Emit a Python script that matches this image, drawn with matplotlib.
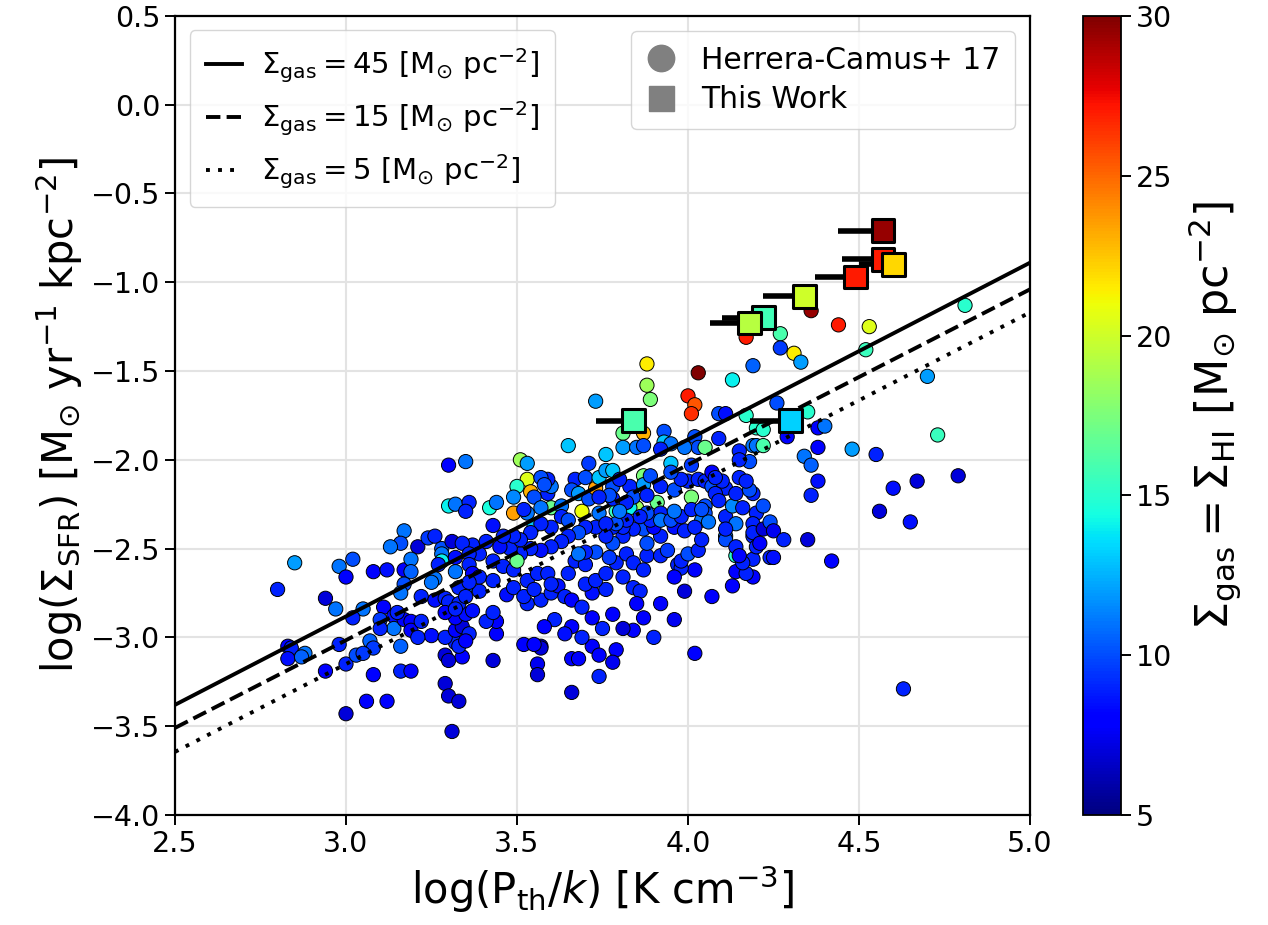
import numpy as np
import matplotlib
matplotlib.use("Agg")
import matplotlib.pyplot as plt
from matplotlib.lines import Line2D
from matplotlib.colors import Normalize

# Herrera-Camus+ 17 regions: log(Pth/k), log(Sigma_SFR), Sigma_HI
hc_logp = [
    3.30, 3.35, 3.30, 3.32, 3.36, 3.35, 3.17, 3.16, 3.13, 3.21, 3.24, 3.26, 3.28, 3.31, 3.37,
    2.85, 2.80, 2.98, 3.02, 3.00, 3.08, 3.12, 3.17, 3.19, 3.19, 3.28, 3.28, 3.27, 3.32, 3.32,
    3.26, 3.25, 3.17, 3.22, 3.26, 3.29, 3.35, 2.94, 2.97, 3.05, 3.11, 3.02, 3.10, 3.14, 3.14,
    3.17, 3.19, 3.19, 3.22, 3.25, 3.21, 3.16, 3.07, 3.08, 2.98, 2.83, 2.84, 2.83, 2.88, 2.87,
    3.00, 3.03, 3.05, 2.94, 3.08, 3.16, 3.19, 3.06, 3.12, 3.00, 3.29, 3.30, 3.33, 3.31, 3.29,
    3.30, 3.34, 3.32, 3.33, 3.29, 3.32, 3.34, 3.32, 3.35, 3.30, 3.33, 3.33, 3.35, 3.16, 3.15,
    3.29, 3.32, 3.10, 3.34,
    3.88, 3.89, 3.73, 4.00, 4.02, 4.01, 4.13, 3.81, 3.87, 3.81, 3.85, 3.87, 3.93, 3.93, 3.95,
    3.92, 4.02, 4.03, 4.05, 4.09, 4.11, 4.17, 4.09, 3.99, 3.95, 4.01, 3.65, 3.76, 3.71, 3.51,
    3.53, 3.53, 3.50, 3.54, 3.49, 3.49, 3.42, 3.44, 3.43, 3.53, 3.55, 3.59, 3.60, 3.60, 3.63,
    3.67, 3.70, 3.66, 3.68, 3.69, 3.71, 3.73, 3.74, 3.76, 3.78, 3.78, 3.74, 3.79, 3.83, 3.87,
    3.87, 3.89, 3.85, 3.83, 3.91, 3.92, 3.78, 4.01, 4.00, 4.03, 4.05, 4.07, 4.07, 4.11, 4.08,
    4.05, 4.05, 4.04, 4.06, 4.11, 4.14, 4.13, 4.16, 4.15, 4.18, 4.15, 4.19, 4.19, 4.20, 4.11,
    4.11, 4.14, 4.14, 4.19, 4.19, 4.14, 4.13, 4.07, 3.99, 4.02, 4.02, 3.96, 3.92, 3.97, 3.98,
    3.96, 3.84, 3.86, 3.85, 3.87, 3.84, 3.90, 3.81, 3.78, 3.72, 3.75, 3.72, 3.74, 3.79, 3.78,
    3.74, 3.66, 3.66, 3.68, 3.69, 3.66, 3.64, 3.61, 3.58, 3.57, 3.56, 3.57, 3.56, 3.52, 3.55,
    3.43, 3.44, 3.44, 3.41, 3.36, 3.37, 3.39, 3.43, 3.53, 3.57, 3.60, 3.62, 3.64, 3.66, 3.69,
    3.72, 3.76, 3.70, 3.65, 3.67, 3.70, 3.73, 3.76, 3.79, 3.82, 3.84, 3.77, 3.73, 3.70, 3.68,
    3.88, 3.92, 3.94, 3.98, 4.00, 4.03, 3.88, 3.92, 3.96, 3.99, 4.02, 4.04, 3.87, 3.90, 3.84,
    3.81, 3.78, 3.81, 3.78, 3.76, 3.73, 3.70, 3.68, 3.65, 3.63, 3.60, 3.57, 3.54, 3.51, 3.48,
    3.45, 3.43, 3.39, 3.36, 3.36, 3.37, 3.39, 3.46, 3.49, 3.53, 3.56, 3.59, 3.60, 3.50, 3.43,
    3.47, 3.49, 3.52, 3.55, 3.63, 3.65, 3.60, 3.57, 3.54, 3.51, 3.49, 3.46, 3.55, 3.57, 3.52,
    3.89, 3.92, 3.95, 3.98, 3.96, 4.01, 4.04, 3.88, 3.86, 3.82, 3.79, 3.76, 3.84, 3.82, 3.80,
    3.88, 3.92, 3.96, 3.98, 3.95, 3.80, 3.77, 3.74, 3.59, 3.57, 3.58, 4.14, 4.18, 4.15, 4.17,
    4.10, 4.08, 4.19, 4.19, 4.20, 4.17, 4.16,
    4.36, 4.44, 4.53, 4.81, 4.17, 4.27, 4.27, 4.31, 4.33, 4.19, 4.52, 4.70, 4.26, 4.35, 4.20,
    4.22, 4.38, 4.40, 4.29, 4.20, 4.22, 4.38, 4.48, 4.55, 4.73, 4.34, 4.36, 4.38, 4.36, 4.60,
    4.67, 4.79, 4.56, 4.65, 4.22, 4.19, 4.22, 4.24, 4.25, 4.28, 4.21, 4.35, 4.15, 4.24, 4.25,
    4.42, 4.63,
    3.88, 4.03, 3.41, 3.36, 3.35, 4.09, 4.11, 3.87, 3.81,
]
hc_logsfr = [
    -2.03, -2.01, -2.26, -2.25, -2.24, -2.29, -2.40, -2.47, -2.49, -2.49, -2.44, -2.43, -2.50, -2.46, -2.48,
    -2.58, -2.73, -2.60, -2.56, -2.66, -2.63, -2.62, -2.62, -2.56, -2.63, -2.53, -2.57, -2.59, -2.55, -2.63,
    -2.67, -2.69, -2.70, -2.77, -2.79, -2.78, -2.72, -2.78, -2.84, -2.84, -2.83, -2.89, -2.90, -2.88, -2.95,
    -2.90, -2.91, -2.96, -2.91, -2.99, -3.00, -3.05, -3.02, -3.06, -3.04, -3.05, -3.06, -3.12, -3.09, -3.11,
    -3.15, -3.10, -3.09, -3.19, -3.21, -3.19, -3.19, -3.36, -3.36, -3.43, -3.26, -3.33, -3.36, -3.53, -3.10,
    -3.13, -3.11, -3.03, -3.05, -3.00, -2.96, -2.94, -2.89, -2.87, -2.80, -2.81, -2.72, -2.77, -2.75, -2.86,
    -2.86, -2.84, -2.95, -2.47,
    -1.58, -1.66, -1.67, -1.64, -1.69, -1.74, -1.55, -1.85, -1.85, -1.93, -1.93, -1.92, -1.84, -1.90, -1.91,
    -1.94, -1.87, -1.93, -1.93, -1.74, -1.74, -1.75, -1.88, -1.93, -2.02, -2.03, -1.92, -1.97, -2.02, -2.00,
    -2.02, -2.11, -2.15, -2.18, -2.21, -2.30, -2.27, -2.24, -2.37, -2.30, -2.37, -2.19, -2.15, -2.27, -2.26,
    -2.11, -2.10, -2.17, -2.19, -2.29, -2.22, -2.16, -2.10, -2.06, -2.06, -2.15, -2.30, -2.29, -2.15, -2.09,
    -2.14, -2.09, -2.27, -2.27, -2.24, -2.30, -2.22, -2.21, -2.12, -2.11, -2.12, -2.15, -2.07, -2.16, -2.19,
    -2.26, -2.30, -2.34, -2.35, -2.32, -2.36, -2.26, -2.27, -1.95, -2.01, -2.00, -1.92, -2.19, -2.30, -2.43,
    -2.45, -2.54, -2.49, -2.56, -2.66, -2.63, -2.71, -2.77, -2.74, -3.09, -2.62, -2.90, -2.81, -2.59, -2.61,
    -2.66, -2.72, -2.74, -2.81, -2.89, -2.96, -3.00, -2.95, -2.87, -2.89, -2.95, -3.05, -3.10, -3.07, -3.14,
    -3.22, -3.31, -3.12, -3.12, -3.00, -2.94, -2.98, -2.90, -2.94, -3.05, -3.15, -3.06, -3.21, -3.04, -3.04,
    -3.13, -2.98, -2.91, -2.91, -2.98, -2.85, -2.74, -2.86, -2.81, -2.79, -2.75, -2.71, -2.77, -2.79, -2.83,
    -2.75, -2.73, -2.70, -2.64, -2.57, -2.59, -2.68, -2.64, -2.58, -2.53, -2.58, -2.55, -2.52, -2.52, -2.53,
    -2.54, -2.54, -2.51, -2.57, -2.53, -2.51, -2.47, -2.43, -2.38, -2.40, -2.38, -2.45, -2.39, -2.38, -2.39,
    -2.43, -2.47, -2.38, -2.38, -2.43, -2.38, -2.38, -2.41, -2.43, -2.46, -2.49, -2.51, -2.50, -2.53, -2.50,
    -2.49, -2.57, -2.53, -2.53, -2.59, -2.64, -2.66, -2.60, -2.62, -2.68, -2.64, -2.64, -2.70, -2.57, -2.68,
    -2.76, -2.72, -2.77, -2.73, -2.32, -2.34, -2.38, -2.36, -2.41, -2.45, -2.43, -2.43, -2.21, -2.27, -2.28,
    -2.34, -2.34, -2.34, -2.32, -2.29, -2.28, -2.28, -2.30, -2.32, -2.34, -2.36, -2.36, -2.21, -2.24, -2.29,
    -2.20, -2.15, -2.17, -2.11, -2.07, -2.11, -2.20, -2.21, -2.11, -2.10, -2.14, -2.19, -2.17, -2.10, -2.12,
    -2.12, -2.10, -2.36, -2.43, -2.49, -2.64, -2.58,
    -1.16, -1.24, -1.25, -1.13, -1.31, -1.29, -1.37, -1.40, -1.45, -1.47, -1.38, -1.53, -1.68, -1.73, -1.82,
    -1.83, -1.82, -1.81, -1.87, -1.92, -1.92, -1.93, -1.94, -1.97, -1.86, -1.98, -2.03, -2.12, -2.20, -2.16,
    -2.12, -2.09, -2.29, -2.35, -2.26, -2.41, -2.39, -2.35, -2.40, -2.45, -2.47, -2.45, -2.54, -2.55, -2.55,
    -2.57, -3.29,
    -1.46, -1.51, -2.46, -2.69, -3.02, -2.23, -2.39, -2.62, -2.66,
]
hc_sigma = [
    8, 11, 14, 11, 9, 9, 11, 10, 11, 7, 9.5, 9, 10, 7, 9,
    12, 9, 11, 10, 8, 8, 8.5, 8, 11, 10.5, 11, 14, 9, 8.5, 11,
    11, 11, 10, 9, 8.5, 9, 10.5, 7, 11, 11, 8, 9, 9.5, 8.5, 11,
    8, 8, 8, 9, 8.5, 9, 10.5, 10.5, 9.5, 9, 8, 9, 8.5, 11, 10.5,
    9, 10, 9.5, 8, 8, 9, 8, 8, 8, 7, 7, 7, 7, 7, 7,
    7, 8, 9, 9, 9, 8, 7, 8, 8.5, 9, 9, 9, 9, 11, 9,
    8, 9, 9, 9,
    18.5, 17.5, 12, 27, 25.5, 26.5, 14, 17, 23, 12, 11, 10, 10, 13, 11,
    9, 10, 10, 17, 10, 8.5, 15, 9, 11, 13, 9.5, 13, 13, 9.5, 18.5,
    12, 20.5, 15, 23, 11.5, 23.5, 14.5, 11, 8.5, 11, 13, 9, 11, 17, 11,
    9, 10, 10, 12, 21, 10, 23.5, 13, 12, 13, 10, 11, 15.5, 9, 17.5,
    12, 10, 18.5, 14, 17, 9, 9, 17.5, 9, 9, 9, 10, 8, 9, 9,
    10, 10, 11, 11, 9, 11, 11.5, 9, 9, 10, 9, 11, 9, 9, 11,
    10, 15, 9, 9, 8, 8, 8, 8, 7, 8, 8, 7.5, 8, 9, 9,
    8, 9, 9, 8, 8, 8, 9, 7, 8, 8, 9, 8, 8, 8, 7.5,
    9, 7, 8, 8, 9, 8, 8.5, 9, 8, 7, 7.5, 7, 7, 8, 8,
    7, 8, 8, 9, 9, 8.5, 9, 9, 9, 9, 9, 8.5, 9, 8, 9,
    8.5, 9, 9, 9, 9, 9, 9, 9, 9, 9, 9, 9.5, 10, 9, 11,
    9, 9, 9.5, 9, 10, 9, 10, 9, 8.5, 9, 9, 9, 10, 8, 9,
    9, 10, 9, 9, 9, 9, 9, 10, 9, 9, 9, 8.5, 9, 9, 9,
    8.5, 9, 9, 9, 9, 8, 9, 9, 9, 9, 9, 9, 9, 17, 9,
    8.5, 9, 9, 9, 9, 10, 9, 9, 9, 9, 9, 9, 10, 11, 9,
    9, 11, 10, 9, 11, 9, 10, 10, 9, 9, 10, 9, 10, 9, 11,
    9, 9, 10, 9, 10, 9, 10, 9, 9, 10, 10, 9, 10, 9, 9,
    9, 9, 9, 9, 9, 9, 9,
    29.5, 27, 20.5, 15, 27, 16, 9.5, 21.5, 12, 10.5, 15.5, 12, 10, 15, 15,
    15, 8, 11, 8, 11, 16, 8, 12, 9, 15.5, 11, 10.5, 8.5, 9, 8.5,
    7, 7, 7, 8.5, 10, 9, 7, 10, 7.5, 9, 8, 7, 8, 9, 8.5,
    8, 9,
    21.5, 30, 9, 9, 8, 9, 9, 9, 9,
]

# this work: square points with lower-side error bars in log(Pth/k)
tw_logp = [4.57, 4.57, 4.60, 4.49, 4.34, 4.22, 4.18, 4.30, 3.84]
tw_logsfr = [-0.71, -0.87, -0.90, -0.97, -1.08, -1.20, -1.23, -1.78, -1.78]
tw_xerr_low = [0.13, 0.12, 0.10, 0.12, 0.12, 0.12, 0.115, 0.12, 0.11]
tw_sigma = [29.5, 27, 22, 27, 20, 15.7, 19.3, 13.3, 16]

# model relations for three gas surface densities (values at logP = 2.5 and 5.0)
model_logp = [2.5, 5.0]
model_45 = [-3.38, -0.89]
model_15 = [-3.51, -1.04]
model_5 = [-3.645, -1.17]

norm = Normalize(vmin=5, vmax=30)
cmap = plt.get_cmap("jet")

fig = plt.figure(figsize=(12.68, 9.25), dpi=100)
ax = fig.add_axes([0.138, 0.119, 0.6743, 0.8638])
cax = fig.add_axes([0.8541, 0.119, 0.030, 0.8638])

ax.grid(True, color="#e3e3e3", linewidth=1.5, zorder=0)
ax.set_axisbelow(True)

lw_model = 2.8
ax.plot(model_logp, model_45, color="k", ls="-", lw=lw_model, zorder=3)
ax.plot(model_logp, model_15, color="k", ls="--", lw=lw_model, zorder=3)
ax.plot(model_logp, model_5, color="k", ls=(0, (1, 2.1)), lw=lw_model, zorder=3)

sc = ax.scatter(hc_logp, hc_logsfr, c=hc_sigma, cmap=cmap, norm=norm, s=105,
                edgecolors="k", linewidths=0.7, zorder=2)

ax.errorbar(tw_logp, tw_logsfr, xerr=[tw_xerr_low, np.zeros(len(tw_logp))],
            fmt="none", ecolor="k", elinewidth=4, capsize=0, zorder=4)
ax.scatter(tw_logp, tw_logsfr, c=tw_sigma, cmap=cmap, norm=norm, marker="s", s=270,
           edgecolors="k", linewidths=2.2, zorder=5)

ax.set_xlim(2.5, 5.0)
ax.set_ylim(-4.0, 0.5)
ax.set_xticks(np.arange(2.5, 5.01, 0.5))
ax.set_yticks(np.arange(-4.0, 0.51, 0.5))
ax.xaxis.set_major_formatter(plt.FormatStrFormatter("%.1f"))
ax.yaxis.set_major_formatter(plt.FuncFormatter(lambda v, p: ("%.1f" % v).replace("-", "\u2212")))
ax.tick_params(labelsize=20.5, width=1.4, length=7)
for sp in ax.spines.values():
    sp.set_linewidth(1.6)

ax.set_xlabel(r"log(P$_{\rm th}$/$k$) [K cm$^{-3}$]", fontsize=30)
ax.set_ylabel(r"log($\Sigma_{\rm SFR}$) [M$_{\odot}$ yr$^{-1}$ kpc$^{-2}$]", fontsize=30)

line_handles = [
    Line2D([], [], color="k", ls="-", lw=lw_model),
    Line2D([], [], color="k", ls="--", lw=lw_model),
    Line2D([], [], color="k", ls=(0, (1, 2.1)), lw=lw_model),
]
line_labels = [
    r"$\Sigma_{\rm gas} = 45$ [M$_{\odot}$ pc$^{-2}$]",
    r"$\Sigma_{\rm gas} = 15$ [M$_{\odot}$ pc$^{-2}$]",
    r"$\Sigma_{\rm gas} = 5$ [M$_{\odot}$ pc$^{-2}$]",
]
leg1 = ax.legend(line_handles, line_labels, loc="upper left", fontsize=21,
                 handlelength=1.25, handletextpad=0.65, borderpad=0.55, labelspacing=0.5)
ax.add_artist(leg1)

marker_handles = [
    Line2D([], [], color="gray", marker="o", ls="none", markersize=19),
    Line2D([], [], color="gray", marker="s", ls="none", markersize=18),
]
ax.legend(marker_handles, ["Herrera-Camus+ 17", "This Work"], loc="upper right",
          fontsize=21.5, borderpad=0.5, labelspacing=0.35, handlelength=1.0,
          handletextpad=0.85)

cb = fig.colorbar(sc, cax=cax)
cb.set_ticks([5, 10, 15, 20, 25, 30])
cb.ax.tick_params(labelsize=20.5, width=1.4, length=7)
cb.outline.set_linewidth(1.3)
cb.set_label(r"$\Sigma_{\rm gas} = \Sigma_{\rm HI}$ [M$_{\odot}$ pc$^{-2}$]", fontsize=32,
             labelpad=10)

fig.savefig("out.png", dpi=100)
